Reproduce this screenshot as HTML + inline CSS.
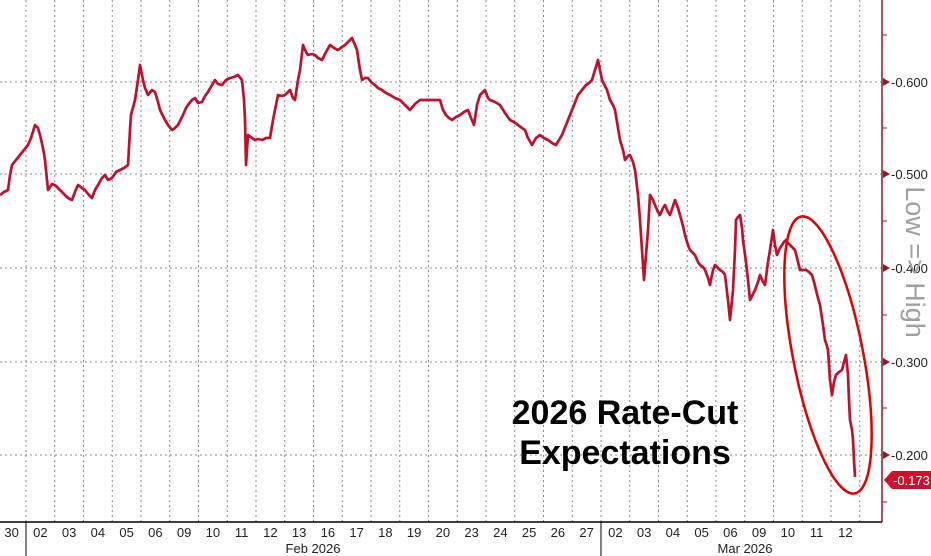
<!DOCTYPE html>
<html><head><meta charset="utf-8"><style>
body{margin:0;background:#fff;}
svg{display:block;font-family:"Liberation Sans",sans-serif;}
</style></head><body>
<svg width="931" height="556" viewBox="0 0 931 556" xmlns="http://www.w3.org/2000/svg">
<rect width="931" height="556" fill="#fff"/>
<g stroke="#888" stroke-width="1" stroke-dasharray="2,3">
<line x1="0" y1="82" x2="882" y2="82"/><line x1="0" y1="174" x2="882" y2="174"/>
<line x1="0" y1="268" x2="882" y2="268"/><line x1="0" y1="362" x2="882" y2="362"/>
<line x1="0" y1="455" x2="882" y2="455"/>
<path d="M26,0V522M54.75,0V522M83.5,0V522M112.25,0V522M141,0V522M169.75,0V522M198.5,0V522M227.25,0V522M256,0V522M284.75,0V522M313.5,0V522M342.25,0V522M371,0V522M399.75,0V522M428.5,0V522M457.25,0V522M486,0V522M514.75,0V522M543.5,0V522M572.25,0V522M601,0V522M629.75,0V522M658.5,0V522M687.25,0V522M716,0V522M744.75,0V522M773.5,0V522M802.25,0V522M831,0V522M859.75,0V522"/>
</g>
<line x1="882" y1="0" x2="882" y2="522" stroke="#8b1a2b" stroke-width="1.5"/>
<line x1="0" y1="522" x2="882" y2="522" stroke="#000" stroke-width="1.5"/>
<line x1="26" y1="522" x2="26" y2="556" stroke="#000"/>
<line x1="601" y1="522" x2="601" y2="556" stroke="#000"/>
<g fill="#8b1a2b">
<polygon points="883,78 890,82 883,86"/><polygon points="883,170 890,174 883,178"/>
<polygon points="883,264 890,268 883,272"/><polygon points="883,358 890,362 883,366"/>
<polygon points="883,451 890,455 883,459"/>
</g>
<g stroke="#8b1a2b"><line x1="882" y1="35" x2="887" y2="35"/><line x1="882" y1="128" x2="887" y2="128"/><line x1="882" y1="221" x2="887" y2="221"/><line x1="882" y1="315" x2="887" y2="315"/><line x1="882" y1="408" x2="887" y2="408"/><line x1="882" y1="502" x2="887" y2="502"/></g>
<g font-size="13" fill="#222">
<text x="891" y="87">-0.600</text><text x="891" y="179">-0.500</text>
<text x="891" y="273">-0.400</text><text x="891" y="367">-0.300</text>
<text x="891" y="460">-0.200</text>
</g>
<polygon points="884,480 892,471 931,471 931,489 892,489" fill="#d0102e"/>
<text x="893" y="485" font-size="13" fill="#fff">-0.173</text>
<text transform="translate(906,262) rotate(90)" text-anchor="middle" font-size="27" fill="#a0a0a0">Low =&gt; High</text>
<g font-size="13" fill="#222" text-anchor="middle">
<text x="11.6" y="537">30</text><text x="40.35" y="537">02</text><text x="69.1" y="537">03</text><text x="97.85" y="537">04</text><text x="126.6" y="537">05</text><text x="155.35" y="537">06</text><text x="184.1" y="537">09</text><text x="212.85" y="537">10</text><text x="241.6" y="537">11</text><text x="270.35" y="537">12</text><text x="299.1" y="537">13</text><text x="327.85" y="537">16</text><text x="356.6" y="537">17</text><text x="385.35" y="537">18</text><text x="414.1" y="537">19</text><text x="442.85" y="537">20</text><text x="471.6" y="537">23</text><text x="500.35" y="537">24</text><text x="529.1" y="537">25</text><text x="557.85" y="537">26</text><text x="586.6" y="537">27</text><text x="615.35" y="537">02</text><text x="644.1" y="537">03</text><text x="672.85" y="537">04</text><text x="701.6" y="537">05</text><text x="730.35" y="537">06</text><text x="759.1" y="537">09</text><text x="787.85" y="537">10</text><text x="816.6" y="537">11</text><text x="845.35" y="537">12</text>
<text x="313" y="553">Feb 2026</text><text x="745" y="553">Mar 2026</text>
</g>
<polyline fill="none" stroke="#c0102c" stroke-width="2.7" stroke-linejoin="round" points="0,195 4,192 8,190 10,175 12,165 16,160 20,155 24,150 28,145 31,138 35,125 38,128 40,135 43,148 45,160 48,190 52,184 55,185 60,190 65,195 68,198 72,200 75,192 78,185 82,188 85,190 88,194 92,198 95,190 98,185 102,178 105,175 108,180 112,178 116,172 120,170 124,168 128,165 130,130 131,115 135,100 138,80 140,65 143,80 145,88 148,95 152,90 155,92 158,102 160,110 165,120 168,125 172,130 175,128 178,125 183,115 186,108 188,105 192,100 195,98 198,103 202,102 205,96 208,92 212,85 215,80 218,84 222,85 226,80 230,78 234,77 238,75 242,80 244,100 245,120 246,165 248,135 252,138 255,140 258,139 262,140 266,138 270,138 273,120 275,110 278,95 282,96 285,95 288,92 290,90 293,98 295,100 298,80 300,70 303,45 306,52 308,55 312,54 315,55 318,58 322,60 326,52 330,45 334,48 338,50 342,47 345,45 348,42 352,38 355,45 357,50 360,70 362,80 365,78 368,78 372,83 375,85 378,88 382,90 386,93 390,95 395,98 400,100 405,105 410,110 415,104 420,100 425,100 430,100 435,100 440,100 443,110 446,115 449,118 452,120 456,117 460,115 464,112 468,110 471,118 474,125 477,105 480,95 483,92 485,90 488,98 490,100 495,102 500,105 505,113 510,120 514,122 518,125 522,128 525,130 528,138 532,145 536,138 540,135 544,138 548,140 552,143 556,145 559,140 562,135 566,125 570,115 574,105 578,95 582,90 586,85 589,83 592,80 595,70 598,60 600,70 602,80 605,86 607,90 610,100 613,105 615,110 618,128 620,140 623,150 625,160 628,156 630,155 633,162 635,170 638,195 640,220 642,250 644,280 646,255 648,230 650,195 653,200 655,205 658,212 660,215 663,208 665,205 668,212 670,215 673,206 675,200 678,208 680,215 683,226 685,235 688,245 690,250 693,253 695,255 698,262 700,265 703,267 705,270 708,278 710,285 713,270 715,265 718,268 720,270 723,272 725,275 728,300 730,320 733,290 735,250 736,220 738,217 740,215 742,228 743,240 746,262 748,280 750,300 753,294 755,290 758,282 760,275 763,282 765,285 768,262 770,250 773,230 775,245 777,255 780,248 782,245 784,242 786,240 788,243 790,245 793,248 795,250 798,262 800,270 803,270 806,270 809,272 812,275 814,282 816,290 818,298 820,305 823,325 825,340 827,346 828,350 829,365 830,380 832,395 834,382 836,375 839,372 842,370 844,362 846,355 848,375 849,400 850,420 852,430 853,440 854,460 855,477"/>
<ellipse cx="828" cy="355" rx="35" ry="141" transform="rotate(-11 828 355)" fill="none" stroke="#e00000" stroke-width="2.5"/>
<text x="625" y="424" font-size="34" font-weight="bold" text-anchor="middle" fill="#000">2026 Rate-Cut</text>
<text x="625" y="464" font-size="34" font-weight="bold" text-anchor="middle" fill="#000">Expectations</text>
</svg>
</body></html>
